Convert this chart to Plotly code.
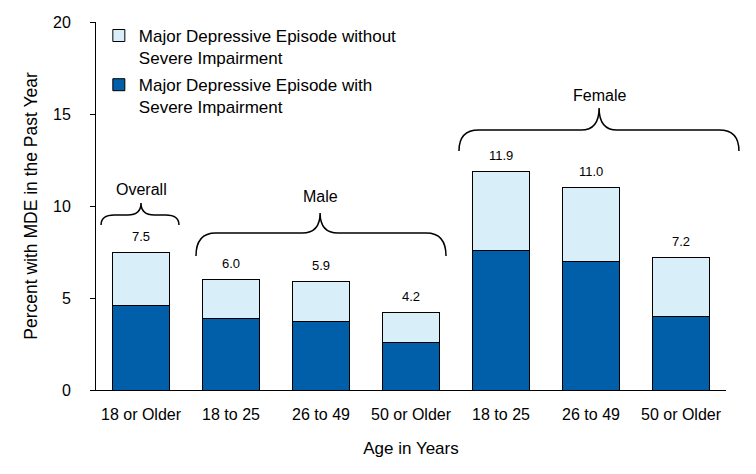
import plotly.graph_objects as go
import numpy as np

# ---- data ----
tick_labels = ["18 or Older", "18 to 25", "26 to 49", "50 or Older",
               "18 to 25", "26 to 49", "50 or Older"]
total = [7.5, 6.0, 5.9, 4.2, 11.9, 11.0, 7.2]
severe = [4.6, 3.9, 3.7, 2.6, 7.6, 7.0, 4.0]
without_severe = [round(t - s, 1) for t, s in zip(total, severe)]
group_names = ["Overall", "Male", "Female"]

name_without = "Major Depressive Episode without<br>Severe Impairment"
name_with = "Major Depressive Episode with<br>Severe Impairment"

DARK = "#005FA8"
LIGHT = "#D8EEF8"
FONT = "Liberation Sans, Arial, sans-serif"

x = np.arange(len(tick_labels))
n = len(tick_labels)
YMAX = 20

fig = go.Figure()
fig.add_trace(go.Bar(
    x=x, y=severe, name=name_with, marker=dict(color=DARK, line=dict(color="black", width=1)),
    width=0.63, legendgroup="b", legendrank=2, hoverinfo="y"))
fig.add_trace(go.Bar(
    x=x, y=without_severe, name=name_without, marker=dict(color=LIGHT, line=dict(color="black", width=1)),
    width=0.63, legendgroup="a", legendrank=1, hoverinfo="y"))

# value labels above bars
for xi, t in zip(x, total):
    fig.add_annotation(x=xi, y=t, text=f"{t:.1f}", showarrow=False, yshift=16,
                       yanchor="middle", font=dict(size=13, color="black", family=FONT))

# braces: (x_left, x_right, x_tip, y_end, y_flat, y_tip, label_y)  in data units
braces = [
    (-0.444, 0.422, 0.0, 8.97, 9.51, 10.16, 10.92),
    (0.611, 3.389, 1.99, 7.28, 8.53, 9.62, 10.49),
    (3.533, 6.644, 5.09, 12.99, 14.13, 15.33, 16.03),
]

def px_(xd):
    return (xd + 0.5) / n

def py_(yd):
    return yd / YMAX

rx = 0.22  # data units for end curve
rt = 0.2   # data units for tip curve
for (gname, (x0, x1, xm, ye, yf, yt, ly)) in zip(group_names, braces):
    rxe = min(rx, (xm - x0) / 3)
    rte = min(rt, (xm - x0) / 3)
    path = (f"M {px_(x0)},{py_(ye)} "
            f"Q {px_(x0)},{py_(yf)} {px_(x0 + rxe)},{py_(yf)} "
            f"L {px_(xm - rte)},{py_(yf)} "
            f"Q {px_(xm)},{py_(yf)} {px_(xm)},{py_(yt)} "
            f"Q {px_(xm)},{py_(yf)} {px_(xm + rte)},{py_(yf)} "
            f"L {px_(x1 - rxe)},{py_(yf)} "
            f"Q {px_(x1)},{py_(yf)} {px_(x1)},{py_(ye)}")
    fig.add_shape(type="path", path=path, xref="paper", yref="paper",
                  line=dict(color="black", width=1.5))
    fig.add_annotation(x=xm, y=ly, text=gname, showarrow=False, yanchor="middle",
                       font=dict(size=16, color="black", family=FONT))

fig.update_layout(
    width=756, height=474,
    margin=dict(l=96, r=30, t=22, b=84, autoexpand=False),
    barmode="stack",
    plot_bgcolor="white", paper_bgcolor="white",
    font=dict(family=FONT, size=16, color="black"),
    showlegend=True,
    legend=dict(x=0.0045, y=1.011, xanchor="left", yanchor="top",
                traceorder="grouped", tracegroupgap=2, valign="top",
                font=dict(size=17, family=FONT, color="black"),
                bgcolor="rgba(0,0,0,0)"),
    xaxis=dict(range=[-0.5, n - 0.5], tickmode="array", tickvals=x, ticktext=tick_labels,
               showline=True, linecolor="black", linewidth=1, ticks="", showgrid=False,
               zeroline=False, ticklabelstandoff=10,
               title=dict(text="Age in Years", standoff=19, font=dict(size=17)),
               tickfont=dict(size=16), automargin=False),
    yaxis=dict(range=[0, YMAX], tickmode="array", tickvals=[0, 5, 10, 15, 20],
               showline=True, linecolor="black", linewidth=1, ticks="outside", ticklen=5,
               tickcolor="black", showgrid=False, zeroline=False, ticklabelstandoff=16,
               title=dict(text="Percent with MDE in the Past Year", standoff=10, font=dict(size=17.5)),
               tickfont=dict(size=16), automargin=False),
)

fig.write_html("out.html")
